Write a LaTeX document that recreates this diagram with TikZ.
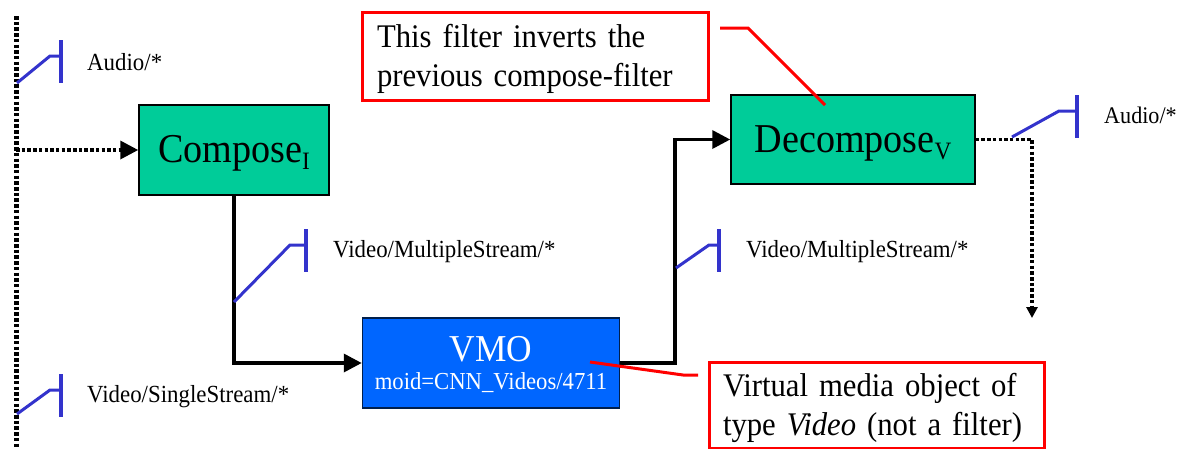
\documentclass[tikz,border=0pt]{standalone}
\usepackage{fontspec}
\setmainfont[FakeStretch=0.93,WordSpace=0.6]{Liberation Serif}
\usetikzlibrary{arrows.meta}
\definecolor{boxgreen}{HTML}{00CC99}
\definecolor{boxblue}{HTML}{0066FF}
\definecolor{linkblue}{HTML}{3333CC}
\newcommand{\sizedfont}[1]{\fontsize{#1}{#1}\selectfont}
\newcommand{\lowsub}[1]{\raisebox{-7pt}{\sizedfont{25}#1}}
\tikzset{
  x=1pt, y=-1pt,
  filterbox/.style={draw=black, line width=1.5pt, fill=boxgreen, inner sep=0pt, font=\sizedfont{41}},
  objectbox/.style={draw=black!70!boxblue, line width=1.5pt, fill=boxblue, text=white, inner sep=0pt, align=center},
  notebox/.style={draw=red, line width=3pt, fill=white, inner sep=0pt, align=left, font=\fontsize{33}{39}\selectfont},
  leader/.style={draw=red, line width=3pt},
  solidlink/.style={draw=black, line width=3.5pt, line join=miter},
  dotlink/.style={draw=black, line width=3.5pt, dash pattern=on 3.5pt off 2.2pt},
  bigtip/.style={-{Triangle[length=18pt,width=18pt]}},
  smalltip/.style={-{Triangle[length=11pt,width=11pt]}},
  caplabel/.style={anchor=base west, inner sep=0pt, font=\sizedfont{24.6}},
  stem/.style={draw=linkblue, line width=3pt},
  bar/.style={draw=linkblue, line width=4pt},
}
\begin{document}
\begin{tikzpicture}
\useasboundingbox (0,0) rectangle (1177,448);
% rail
\coordinate (railtop) at (16,16);
\coordinate (railbot) at (16,448);
\coordinate (railmid) at (16,150);
\draw[dotlink, line width=5pt] (railtop) -- (railbot);
% boxes
\node[filterbox, minimum width=190pt, minimum height=90pt, text height=32pt, text depth=8pt] (compose) at (234,150) {Compose\lowsub{I}};
\node[filterbox, minimum width=244pt, minimum height=89pt, text height=33pt, text depth=8pt] (decompose) at (853,139.5) {Decompose\lowsub{V}};
\node[objectbox, minimum width=257pt, minimum height=90pt] (vmo) at (491,363) {\rule{0pt}{28pt}{\sizedfont{38}VMO}\\[9pt]{\sizedfont{24.4}moid=CNN\_Videos/4711}};
% connectors
\coordinate (vmcorner) at (675,363);
\coordinate (decorner) at (1032,139.5);
\coordinate (deend) at (1032,318);
\draw[dotlink, bigtip] (railmid) -- (compose.west);
\draw[solidlink, bigtip] (compose.south) |- (vmo.west);
\draw[solidlink, bigtip] (vmo.east) -- (vmcorner) |- (decompose.west);
\draw[dotlink, smalltip] (decompose.east) -- (decorner) -- (deend);
% stream tags
\coordinate (a1s) at (17,83); \coordinate (a1k) at (50,56); \coordinate (a1j) at (61,56);
\draw[stem] (a1s) -- (a1k) -- (a1j);
\draw[bar] (61,40) -- (61,83);
\node[caplabel] (a1t) at (87,70) {Audio/*};
\coordinate (v1s) at (234,302); \coordinate (v1k) at (290,245); \coordinate (v1j) at (306,245);
\draw[stem] (v1s) -- (v1k) -- (v1j);
\draw[bar] (306,229) -- (306,272);
\node[caplabel] (v1t) at (333,257) {Video/MultipleStream/*};
\coordinate (s1s) at (17,414); \coordinate (s1k) at (50,390); \coordinate (s1j) at (61,390);
\draw[stem] (s1s) -- (s1k) -- (s1j);
\draw[bar] (61,374) -- (61,417);
\node[caplabel] (s1t) at (87,402) {Video/SingleStream/*};
\coordinate (v2s) at (676,268); \coordinate (v2k) at (709,245); \coordinate (v2j) at (719,245);
\draw[stem] (v2s) -- (v2k) -- (v2j);
\draw[bar] (719,229) -- (719,272);
\node[caplabel] (v2t) at (746,257) {Video/MultipleStream/*};
\coordinate (a2s) at (1012,137); \coordinate (a2k) at (1059,111); \coordinate (a2j) at (1077,111);
\draw[stem] (a2s) -- (a2k) -- (a2j);
\draw[bar] (1077,95) -- (1077,138);
\node[caplabel, font=\sizedfont{23.8}] (a2t) at (1104,123) {Audio/*};
% notes
\node[notebox, minimum width=346pt, minimum height=88pt, text width=316pt] (noteA) at (535,56) {\rule{0pt}{30pt}This filter inverts the\\previous compose-filter};
\node[notebox, minimum width=335pt, minimum height=86pt, text width=307pt] (noteB) at (876.5,405) {\rule{0pt}{30pt}Virtual media object of\\type \textit{Video} (not a filter)};
\coordinate (la0) at (720,28); \coordinate (la1) at (748,28); \coordinate (la2) at (825,105);
\draw[leader] (la0) -- (la1) -- (la2);
\coordinate (lb0) at (590,362); \coordinate (lb1) at (683,375); \coordinate (lb2) at (698,375);
\draw[leader] (lb0) -- (lb1) -- (lb2);
\end{tikzpicture}
\end{document}
